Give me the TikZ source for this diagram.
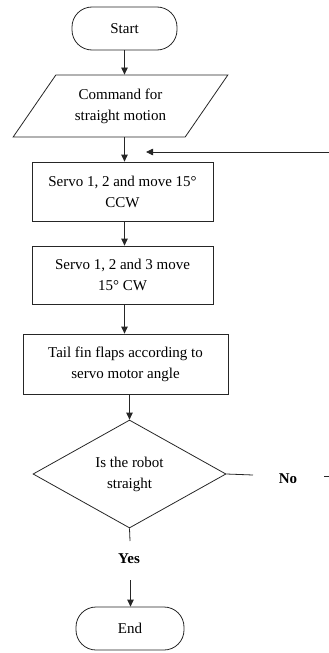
\documentclass[tikz,border=0pt]{standalone}
\usepackage{fontspec}
\setmainfont{Liberation Serif}
\usetikzlibrary{shapes.geometric, arrows.meta, calc}
\colorlet{line-color}{black!85}
\tikzset{
    any-box/.style = {draw=line-color, line width=0.8pt, align=center, inner sep=2pt,
        font=\fontsize{15}{21}\selectfont},
    term-box/.style = {any-box, rectangle, rounded corners=20pt,
        minimum width=105pt, minimum height=43pt},
    io-box/.style = {any-box, trapezium, trapezium left angle=51, trapezium right angle=129,
        trapezium stretches=true, minimum width=215pt, minimum height=62pt},
    proc-box/.style = {any-box, rectangle, minimum height=59pt},
    dec-box/.style = {any-box, diamond, inner sep=0pt, minimum width=193pt, minimum height=108pt},
    branch-label/.style = {font=\fontsize{15}{18}\selectfont\bfseries, inner sep=1pt},
    flow/.style = {draw=line-color, line width=0.8pt, -{Triangle[length=7pt,width=6.5pt]}},
    plain/.style = {draw=line-color, line width=0.8pt},
}
\begin{document}
\begin{tikzpicture}[x=1pt,y=-1pt]
\useasboundingbox (0,0) rectangle (329,653);

\node[term-box] (start) at (124.5,28.5) {Start};
\node[io-box] (cmd) at (120.5,106) {Command for\\straight motion};
\node[proc-box, minimum width=181pt] (servo-ccw) at (122.5,191.5) {Servo 1, 2 and move 15°\\CCW};
\node[proc-box, minimum width=181pt, minimum height=58pt] (servo-cw) at (122.5,275) {Servo 1, 2 and 3 move\\15° CW};
\node[proc-box, minimum width=205pt, minimum height=60pt] (tail-fin) at (125.5,364) {Tail fin flaps according to\\servo motor angle};
\node[dec-box] (check) at (129.5,474) {Is the robot\\straight};
\node[term-box, minimum width=108pt] (stop) at (130,628.5) {End};

\node[branch-label] (no) at (288,479) {No};
\node[branch-label] (yes) at (129,559) {Yes};

\coordinate (loop-in) at (146,152);
\coordinate (loop-edge) at (329,152);
\coordinate (no-end) at (253,475);
\coordinate (no-dash) at (324,476);
\coordinate (no-edge) at (329,476);
\coordinate (yes-end) at (130,541);
\coordinate (yes-from) at (130.5,580);

\draw[flow] (start.south) -- (start.south |- cmd.north);
\draw[flow] (start.south |- cmd.south) -- (start.south |- servo-ccw.north);
\draw[flow] (start.south |- servo-ccw.south) -- (start.south |- servo-cw.north);
\draw[flow] (start.south |- servo-cw.south) -- (start.south |- tail-fin.north);
\draw[flow] (check.north |- tail-fin.south) -- (check.north);
\draw[flow] (loop-edge) -- (loop-in);

\draw[plain] (check.east) -- (no-end);
\draw[plain] (no-dash) -- (no-edge);
\draw[plain] (check.south) -- (yes-end);
\draw[flow] (yes-from) -- (yes-from |- stop.north);
\end{tikzpicture}
\end{document}
